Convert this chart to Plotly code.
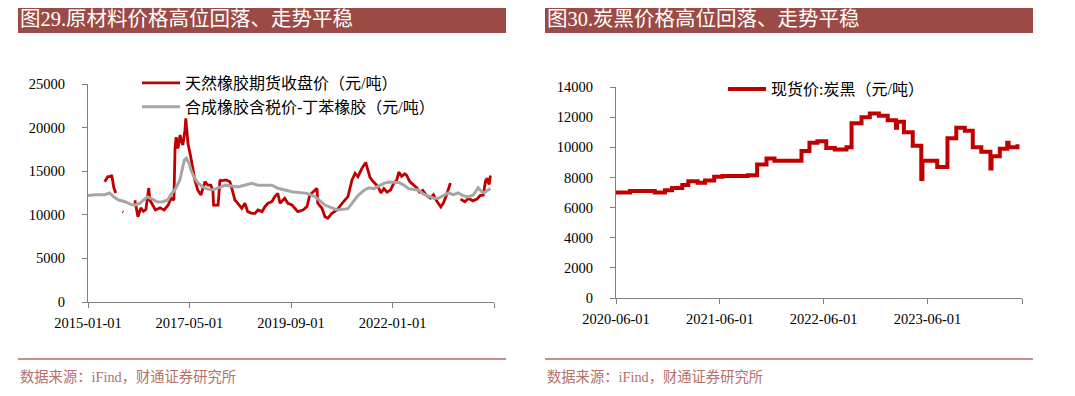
import plotly.graph_objects as go

# page has an 8px body margin; figure sized to fit inside the window
OFF = 8
W, H = 1059, 380

# ---------------- data ----------------
rubber_dates = [
    "2015-05-21", "2015-06-01", "2015-06-16", "2015-07-10", "2015-07-19", "2015-08-06", "2015-08-22", "2015-09-10",
    "2015-10-18", "2015-10-24", "2015-11-10",
    "2016-01-20", "2016-02-01", "2016-02-24", "2016-03-19", "2016-04-10", "2016-05-01", "2016-05-25",
    "2016-06-03", "2016-06-28", "2016-07-20", "2016-08-28", "2016-10-01", "2016-11-03", "2016-11-28",
    "2016-12-22", "2017-01-01", "2017-01-10", "2017-01-25", "2017-02-12", "2017-02-21", "2017-03-07",
    "2017-03-25", "2017-04-01", "2017-04-19", "2017-05-13", "2017-06-16", "2017-07-10", "2017-08-06",
    "2017-09-09", "2017-10-03", "2017-10-28", "2017-11-15", "2017-11-20", "2017-12-28", "2018-01-13",
    "2018-01-22", "2018-03-04", "2018-04-06", "2018-04-22", "2018-05-18", "2018-06-12", "2018-07-15",
    "2018-08-10", "2018-09-03", "2018-10-06", "2018-11-03", "2018-11-28", "2019-01-01", "2019-01-25",
    "2019-02-20", "2019-03-24", "2019-04-18", "2019-05-13", "2019-06-01", "2019-07-10", "2019-08-06",
    "2019-09-09", "2019-10-03", "2019-10-28", "2019-12-10", "2020-01-13", "2020-02-06", "2020-03-03",
    "2020-04-06", "2020-04-13", "2020-05-18", "2020-06-12", "2020-07-06", "2020-08-09", "2020-09-21",
    "2020-11-03", "2020-11-28", "2020-12-22", "2021-01-25", "2021-02-20", "2021-03-16", "2021-04-18",
    "2021-05-20", "2021-06-08", "2021-06-25", "2021-07-10", "2021-08-05", "2021-09-01", "2021-09-25",
    "2021-10-20", "2021-11-15", "2021-12-15", "2022-01-10", "2022-02-05", "2022-02-22", "2022-03-18",
    "2022-04-12", "2022-04-28", "2022-05-25", "2022-06-18", "2022-07-22", "2022-08-15", "2022-09-10",
    "2022-10-15", "2022-11-15", "2022-12-10", "2023-01-05", "2023-02-10", "2023-03-05", "2023-03-30",
    "2023-04-15", "2023-05-01", "2023-05-20", "2023-06-20", "2023-07-01", "2023-07-25", "2023-08-30",
    "2023-10-01", "2023-11-05", "2023-12-10", "2024-01-05", "2024-02-01", "2024-02-20", "2024-03-05",
    "2024-03-12", "2024-03-22", "2024-04-01",
]
rubber_values = [
    13800, 14000, 14370, 14400, 14560, 13100, 12500, None,
    10360, 10300, None,
    11500, 11500, 9780, 10800, 10400, 10600, 13070,
    11700, 11100, 10550, 10800, 10550, 11100, 11900,
    11700, 17800, 18900, 17600, 19150, 18500, 18000,
    19700, 21050, 18200, 16600, 14000, 12850, 12270,
    13800, 13400, 13400, 12650, 11100, 11100, 14000,
    13900, 14000, 13800, 13040, 11700, 11320, 10750,
    11320, 10360, 10170, 10170, 10550, 10360, 10930,
    11320, 11500, 12080, 12460, 11320, 11890, 11320,
    11120, 10750, 10360, 10550, 10930, 12270, 12650,
    13040, 11320, 10750, 9780, 9600, 10170, 10550,
    11320, 11700, 12080, 14000, 14760, 14380, 15330,
    16000, 15200, 14300, 14000, 13600, 13200, 12500,
    13000, 12600, 12850, 13600, 14000, 14900, 14400,
    14700, 14550, 13800, 13500, 13100, 12600, 12800,
    12200, 11900, 12300, 11600, 10900, 11400, 12300,
    13000, 13650, None, 12500, None, 11800, 11500,
    11900, 11600, 11800, 12200, 12270, 13900, 14200,
    13700, 13500, 14500,
]

sbr_dates = [
    "2015-01-01", "2015-03-01", "2015-05-20", "2015-07-01", "2015-08-10", "2015-09-15", "2015-11-10",
    "2015-12-25", "2016-01-28", "2016-03-10", "2016-04-20", "2016-05-15", "2016-06-25", "2016-08-05",
    "2016-09-20", "2016-11-01", "2016-11-25", "2016-12-10", "2017-01-05", "2017-02-10", "2017-03-03",
    "2017-03-20", "2017-04-06", "2017-05-01", "2017-05-15", "2017-06-10", "2017-07-06", "2017-08-10",
    "2017-09-21", "2017-11-01", "2017-12-15", "2018-02-25", "2018-06-12", "2018-10-06", "2018-11-28",
    "2019-03-24", "2019-05-13", "2019-09-09", "2020-01-13", "2020-03-20", "2020-06-12", "2020-09-21",
    "2020-12-22", "2021-01-25", "2021-03-16", "2021-05-05", "2021-06-15", "2021-07-28", "2021-09-08",
    "2021-10-20", "2021-12-01", "2022-01-10", "2022-02-22", "2022-04-05", "2022-05-15", "2022-06-25",
    "2022-08-05", "2022-09-15", "2022-10-25", "2022-12-10", "2023-01-20", "2023-03-05", "2023-04-15",
    "2023-05-25", "2023-07-05", "2023-08-15", "2023-10-01", "2023-11-10", "2023-12-20", "2024-01-15",
    "2024-02-10", "2024-03-05", "2024-04-01",
]
sbr_values = [
    12200, 12300, 12300, 12500, 12000, 11700, 11500,
    11200, 11100, 11300, 11800, 12050, 11800, 11470,
    11500, 11700, 12300, 12600, 13000, 14000, 15500,
    16300, 16500, 15800, 15100, 14300, 13750, 13300,
    13000, 12850, 13000, 13400, 13200, 13610, 13400,
    13400, 13040, 12650, 12460, 12080, 11120, 10550,
    10700, 11300, 12200, 12800, 13100, 13000, 13300,
    13600, 13750, 13750, 13700, 13400, 13000, 12900,
    12850, 12400, 12200, 11900, 11900, 12200, 12500,
    12300, 12500, 12200, 12050, 12300, 13100, 12700,
    12500, 12800, 13000,
]

cb_dates = [
    "2020-06-01", "2020-07-20", "2020-10-15", "2020-11-20", "2020-12-15", "2021-01-20", "2021-02-10",
    "2021-03-15", "2021-04-10", "2021-05-12", "2021-06-10", "2021-09-07", "2021-10-10", "2021-11-12",
    "2021-12-10", "2022-03-15", "2022-04-12", "2022-05-10", "2022-06-10", "2022-07-10", "2022-08-20",
    "2022-09-07", "2022-10-12", "2022-11-10", "2022-12-12", "2023-01-12", "2023-02-10", "2023-02-14",
    "2023-03-10", "2023-04-10", "2023-05-10", "2023-05-14", "2023-07-05", "2023-08-10", "2023-09-10",
    "2023-10-10", "2023-11-07", "2023-12-07", "2024-01-08", "2024-01-12", "2024-02-10", "2024-03-07",
    "2024-03-12", "2024-04-12",
]
cb_values = [
    7000, 7100, 7000, 7150, 7300, 7500, 7750,
    7650, 7800, 8050, 8100, 8150, 8850, 9250,
    9100, 9750, 10300, 10400, 9950, 9850, 10000,
    11600, 12000, 12250, 12100, 11800, 11300, 11700,
    11000, 10100, 7900, 9100, 8700, 10600, 11300,
    11100, 10000, 9700, 8600, 9400, 9900, 10300,
    10000, 10200,
]

left_yticks = [0, 5000, 10000, 15000, 20000, 25000]
right_yticks = [0, 2000, 4000, 6000, 8000, 10000, 12000, 14000]
left_ticks = ["2015-01-01", "2017-05-01", "2019-09-01", "2022-01-01", "2024-05-01"]
left_ticktext = ["2015-01-01", "2017-05-01", "2019-09-01", "2022-01-01", ""]
right_ticks = ["2020-06-01", "2021-06-01", "2022-06-01", "2023-06-01", "2024-04-28"]
right_ticktext = ["2020-06-01", "2021-06-01", "2022-06-01", "2023-06-01", ""]

# ---------------- helpers (screen px -> paper fraction) ----------------
def fx(x):
    return (x - OFF) / W

def fy(y):
    return 1 - (y - OFF) / H

RED = "#C00000"
GRAY = "#A6A6A6"
BANNER = "#9C4A45"
SERIF = "Liberation Serif, 'Noto Sans CJK SC', serif"

fig = go.Figure()

fig.add_trace(go.Scatter(
    x=rubber_dates, y=rubber_values, mode="lines", name="天然橡胶期货收盘价（元/吨）",
    line=dict(color=RED, width=2.8), connectgaps=False, xaxis="x", yaxis="y", legend="legend",
))
fig.add_trace(go.Scatter(
    x=sbr_dates, y=sbr_values, mode="lines", name="合成橡胶含税价-丁苯橡胶（元/吨）",
    line=dict(color=GRAY, width=3), xaxis="x", yaxis="y", legend="legend",
))
fig.add_trace(go.Scatter(
    x=cb_dates, y=cb_values, mode="lines", name="现货价:炭黑（元/吨）",
    line=dict(color=RED, width=4, shape="hv"), xaxis="x2", yaxis="y2", legend="legend2",
))

axis_common = dict(
    showgrid=False, zeroline=False, showline=True, linecolor="#808080", linewidth=1,
    ticks="outside", tickcolor="#808080", ticklen=5, tickwidth=1, automargin=False,
    tickfont=dict(family=SERIF, size=14.5, color="#000000"),
)

fig.update_layout(
    width=W, height=H, margin=dict(l=0, r=0, t=0, b=0, pad=0, autoexpand=False),
    paper_bgcolor="white", plot_bgcolor="white",
    xaxis=dict(domain=[fx(88), fx(494)], type="date", range=["2015-01-01", "2024-05-01"],
               tickvals=left_ticks, ticktext=left_ticktext, anchor="y", ticklabelstandoff=3,
               **axis_common),
    yaxis=dict(domain=[fy(302), fy(84)], range=[0, 25000], tickvals=left_yticks,
               ticktext=[str(v) for v in left_yticks],
               anchor="x", ticklabelstandoff=14, **axis_common),
    xaxis2=dict(domain=[fx(616), fx(1022)], type="date", range=["2020-06-01", "2024-04-28"],
                tickvals=right_ticks, ticktext=right_ticktext, anchor="y2", ticklabelstandoff=3,
                **axis_common),
    yaxis2=dict(domain=[fy(298), fy(87)], range=[0, 14000], tickvals=right_yticks,
                ticktext=[str(v) for v in right_yticks],
                anchor="x2", ticklabelstandoff=14, **axis_common),
    legend=dict(x=fx(137), y=fy(66), xanchor="left", yanchor="top", bgcolor="rgba(0,0,0,0)",
                font=dict(family=SERIF, size=16, color="#000000"), tracegroupgap=0,
                itemwidth=38),
    legend2=dict(x=fx(723), y=fy(72), xanchor="left", yanchor="top", bgcolor="rgba(0,0,0,0)",
                 font=dict(family=SERIF, size=16, color="#000000"), itemwidth=38),
    showlegend=True,
)

shapes = []
for x0, x1 in [(18, 506), (545, 1033)]:
    shapes.append(dict(type="rect", xref="paper", yref="paper", x0=fx(x0), x1=fx(x1), y0=fy(33), y1=fy(4),
                       fillcolor=BANNER, line=dict(width=0), layer="below"))
    shapes.append(dict(type="line", xref="paper", yref="paper", x0=fx(x0), x1=fx(x1), y0=fy(359), y1=fy(359),
                       line=dict(color="#B56A66", width=1.5)))
fig.update_layout(shapes=shapes)

annotations = [
    dict(text="图29.原材料价格高位回落、走势平稳", x=fx(18), y=fy(18.5)),
    dict(text="图30.炭黑价格高位回落、走势平稳", x=fx(545), y=fy(18.5)),
]
for a in annotations:
    fig.add_annotation(xref="paper", yref="paper", xanchor="left", yanchor="middle", showarrow=False,
                       font=dict(family=SERIF, size=20.5, color="#FFFFFF"), **a)
for x0 in (18, 545):
    fig.add_annotation(text="数据来源：iFind，财通证券研究所", xref="paper", yref="paper", x=fx(x0), y=fy(377),
                       xanchor="left", yanchor="middle", showarrow=False,
                       font=dict(family=SERIF, size=14.3, color="#B5706A"))

fig.write_html("out.html")
